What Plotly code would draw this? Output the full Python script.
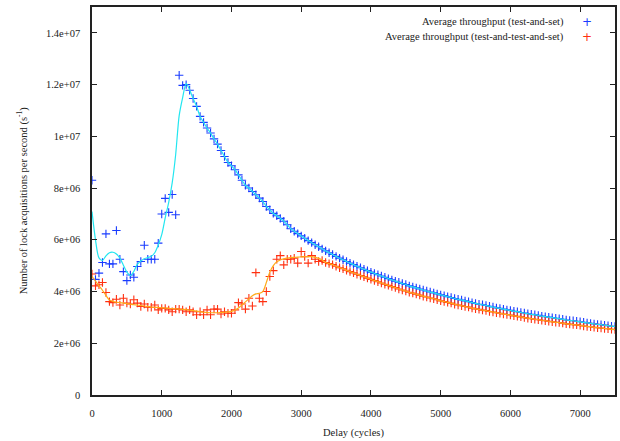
import plotly.graph_objects as go

# Delay (cycles), one sample every 50 cycles
delay = [
    0, 50, 100, 150, 200, 250, 300, 350, 400, 450,
    500, 550, 600, 650, 700, 750, 800, 850, 900, 950,
    1000, 1050, 1100, 1150, 1200, 1250, 1300, 1350, 1400, 1450,
    1500, 1550, 1600, 1650, 1700, 1750, 1800, 1850, 1900, 1950,
    2000, 2050, 2100, 2150, 2200, 2250, 2300, 2350, 2400, 2450,
    2500, 2550, 2600, 2650, 2700, 2750, 2800, 2850, 2900, 2950,
    3000, 3050, 3100, 3150, 3200, 3250, 3300, 3350, 3400, 3450,
    3500, 3550, 3600, 3650, 3700, 3750, 3800, 3850, 3900, 3950,
    4000, 4050, 4100, 4150, 4200, 4250, 4300, 4350, 4400, 4450,
    4500, 4550, 4600, 4650, 4700, 4750, 4800, 4850, 4900, 4950,
    5000, 5050, 5100, 5150, 5200, 5250, 5300, 5350, 5400, 5450,
    5500, 5550, 5600, 5650, 5700, 5750, 5800, 5850, 5900, 5950,
    6000, 6050, 6100, 6150, 6200, 6250, 6300, 6350, 6400, 6450,
    6500, 6550, 6600, 6650, 6700, 6750, 6800, 6850, 6900, 6950,
    7000, 7050, 7100, 7150, 7200, 7250, 7300, 7350, 7400, 7450,
    7500,
]

# Average throughput, test-and-set (millions of acquisitions / s)
tas = [
    8.30, 4.47, 4.71, 5.12, 6.23, 5.07, 5.07, 6.36, 5.25, 4.77,
    4.42, 4.64, 4.55, 4.97, 5.16, 5.79, 5.25, 5.25, 5.25, 5.87,
    7.00, 7.60, 7.06, 7.75, 6.97, 12.36, 11.97, 12.00, 11.78, 11.46,
    11.16, 10.77, 10.54, 10.32, 10.13, 9.90, 9.70, 9.45, 9.22, 8.99,
    8.86, 8.71, 8.51, 8.30, 8.11, 8.00, 7.87, 7.74, 7.61, 7.48,
    7.29, 7.16, 7.02, 6.93, 6.83, 6.72, 6.58,
    6.43, 6.33, 6.24, 6.15, 6.06, 5.97, 5.89, 5.81, 5.73, 5.65,
    5.57, 5.50, 5.43, 5.36, 5.29, 5.23, 5.16, 5.10, 5.04, 4.98,
    4.92, 4.86, 4.81, 4.75, 4.70, 4.65, 4.60, 4.55, 4.50, 4.45,
    4.40, 4.36, 4.31, 4.27, 4.22, 4.18, 4.14, 4.10, 4.06, 4.02,
    3.98, 3.95, 3.91, 3.87, 3.84, 3.80, 3.77, 3.73, 3.70, 3.67,
    3.64, 3.61, 3.57, 3.54, 3.51, 3.49, 3.46, 3.43, 3.40, 3.37,
    3.35, 3.32, 3.29, 3.27, 3.24, 3.22, 3.19, 3.17, 3.14, 3.12,
    3.10, 3.08, 3.05, 3.03, 3.01, 2.99, 2.97, 2.95, 2.93, 2.90,
    2.88, 2.87, 2.85, 2.83, 2.81, 2.79, 2.77, 2.75, 2.73, 2.72,
    2.70, 2.68, 2.66, 2.65,
]

# Average throughput, test-and-test-and-set (millions of acquisitions / s)
ttas = [
    4.68, 4.22, 4.26, 4.35, 3.96, 3.61, 3.57, 3.70, 3.48, 3.74,
    3.55, 3.52, 3.68, 3.55, 3.42, 3.52, 3.39, 3.39, 3.48, 3.29,
    3.35, 3.35, 3.29, 3.22, 3.32, 3.32, 3.29, 3.22, 3.29, 3.22,
    3.10, 3.22, 3.10, 3.29, 3.10, 3.32, 3.32, 3.13, 3.22, 3.16,
    3.16, 3.29, 3.57, 3.52, 3.32, 3.74, 3.44, 4.73, 3.74, 3.61,
    4.00, 4.58, 4.81, 5.25, 5.39, 5.03, 5.25, 5.25, 5.29, 5.10,
    5.55, 5.35, 5.10, 5.39, 5.25, 5.16, 5.20,
    5.12, 5.08, 5.04, 4.98, 4.92, 4.88, 4.82, 4.77, 4.72, 4.67,
    4.62, 4.57, 4.52, 4.47, 4.42, 4.38, 4.33, 4.28, 4.24, 4.19,
    4.15, 4.10, 4.06, 4.02, 3.97, 3.94, 3.90, 3.86, 3.82, 3.79,
    3.75, 3.72, 3.68, 3.64, 3.61, 3.58, 3.55, 3.51, 3.48, 3.45,
    3.42, 3.40, 3.36, 3.33, 3.31, 3.28, 3.26, 3.23, 3.21, 3.18,
    3.16, 3.13, 3.11, 3.09, 3.06, 3.04, 3.02, 2.99, 2.97, 2.95,
    2.93, 2.91, 2.89, 2.87, 2.85, 2.83, 2.81, 2.80, 2.78, 2.75,
    2.74, 2.72, 2.71, 2.69, 2.67, 2.65, 2.64, 2.62, 2.60, 2.59,
    2.57, 2.56, 2.54, 2.53,
]

# Smoothed curves over the noisy early region
tas_smooth_early = [
    7.09, 6.00, 5.30, 5.20, 5.38, 5.50, 5.52, 5.45, 5.29, 5.02,
    4.75, 4.62, 4.78, 5.05, 5.18, 5.27, 5.31, 5.36, 5.50, 5.80,
    6.20, 6.85, 7.45, 8.20, 9.30, 10.80, 11.50, 12.04, 11.80,
]
ttas_smooth_early = [
    4.58, 4.40, 4.22, 4.05, 3.85, 3.67, 3.62, 3.59, 3.57, 3.55,
    3.53, 3.51, 3.49, 3.48, 3.46, 3.44, 3.42, 3.40, 3.39, 3.38,
    3.37, 3.36, 3.35, 3.34, 3.33, 3.32, 3.31, 3.30, 3.28, 3.26,
    3.24, 3.22, 3.20, 3.19, 3.18, 3.18, 3.18, 3.19, 3.20, 3.21,
    3.23, 3.28, 3.36, 3.48, 3.60, 3.72, 3.84, 3.91, 3.93, 4.00,
    4.35, 4.75, 5.00, 5.15, 5.22, 5.26, 5.29, 5.31, 5.32, 5.33,
    5.34, 5.35, 5.35, 5.35, 5.32, 5.28, 5.22,
]

y_ticks = [0, 2e6, 4e6, 6e6, 8e6, 1e7, 1.2e7, 1.4e7]
y_tick_labels = ["0", "2e+06", "4e+06", "6e+06", "8e+06", "1e+07", "1.2e+07", "1.4e+07"]
x_ticks = [0, 1000, 2000, 3000, 4000, 5000, 6000, 7000]

series_names = ["Average throughput (test-and-set)",
                "Average throughput (test-and-test-and-set)"]

BLUE = "#1a3cff"
RED = "#ff3010"
CYAN = "#22e6f0"
ORANGE = "#ffab1a"
M = 1e6

n1 = len(tas_smooth_early)
n2 = len(ttas_smooth_early)
tas_line = [v * M for v in tas_smooth_early] + [v * M for v in tas[n1:]]
ttas_line = [v * M for v in ttas_smooth_early] + [v * M for v in ttas[n2:]]

fig = go.Figure()
fig.add_trace(go.Scatter(
    x=delay, y=[v * M for v in tas], mode="markers", name=series_names[0],
    marker=dict(symbol="cross-thin", size=6, color=BLUE, line=dict(color=BLUE, width=1.1)),
    showlegend=False))
fig.add_trace(go.Scatter(
    x=delay, y=[v * M for v in ttas], mode="markers", name=series_names[1],
    marker=dict(symbol="cross-thin", size=6, color=RED, line=dict(color=RED, width=1.1)),
    showlegend=False))
fig.add_trace(go.Scatter(
    x=delay, y=tas_line, mode="lines", line=dict(color=CYAN, width=1.2, shape="spline", smoothing=0.8),
    showlegend=False, hoverinfo="skip"))
fig.add_trace(go.Scatter(
    x=delay, y=ttas_line, mode="lines", line=dict(color=ORANGE, width=1.2, shape="spline", smoothing=0.8),
    showlegend=False, hoverinfo="skip"))

FONT = "Times New Roman, Liberation Serif, serif"
axis_common = dict(
    showline=True, linecolor="#222222", linewidth=1.5, mirror="allticks",
    ticks="inside", ticklen=5, tickwidth=1, tickcolor="#222222",
    showgrid=False, zeroline=False,
    tickfont=dict(family=FONT, size=10.5, color="#222222"),
)

fig.update_xaxes(range=[0, 7500], tickvals=x_ticks, ticklabelstandoff=8, **axis_common)
fig.update_yaxes(range=[0, 1.5e7], tickvals=y_ticks, ticktext=y_tick_labels,
                 ticklabelstandoff=8, **axis_common)

# Legend (text right-aligned, symbol on the right, as in gnuplot)
legend_rows = [0.962, 0.923]
legend_colors = [BLUE, RED]
annotations = []
for name, yy, col in zip(series_names, legend_rows, legend_colors):
    annotations.append(dict(xref="paper", yref="paper", x=0.907, y=yy, text=name,
                            showarrow=False, xanchor="right", yanchor="middle",
                            font=dict(family=FONT, size=10.5, color="#222222")))
    annotations.append(dict(xref="paper", yref="paper", x=0.947, y=yy, text="+",
                            showarrow=False, xanchor="center", yanchor="middle",
                            font=dict(family="DejaVu Sans", size=12, color=col)))
annotations.append(dict(xref="paper", yref="paper", x=0.5, y=-0.098, text="Delay (cycles)",
                        showarrow=False, xanchor="center", yanchor="middle",
                        font=dict(family=FONT, size=10.5, color="#222222")))
annotations.append(dict(xref="paper", yref="paper", x=-0.1333, y=0.5,
                        text="Number of lock acquisitions per second (s<sup>-1</sup>)",
                        textangle=-90, showarrow=False, xanchor="center", yanchor="middle",
                        font=dict(family=FONT, size=10.5, color="#222222")))

fig.update_layout(
    width=620, height=441,
    margin=dict(l=92, r=3, t=7, b=46, pad=0),
    paper_bgcolor="white", plot_bgcolor="white",
    annotations=annotations,
    showlegend=False,
)

fig.write_html("out.html")
